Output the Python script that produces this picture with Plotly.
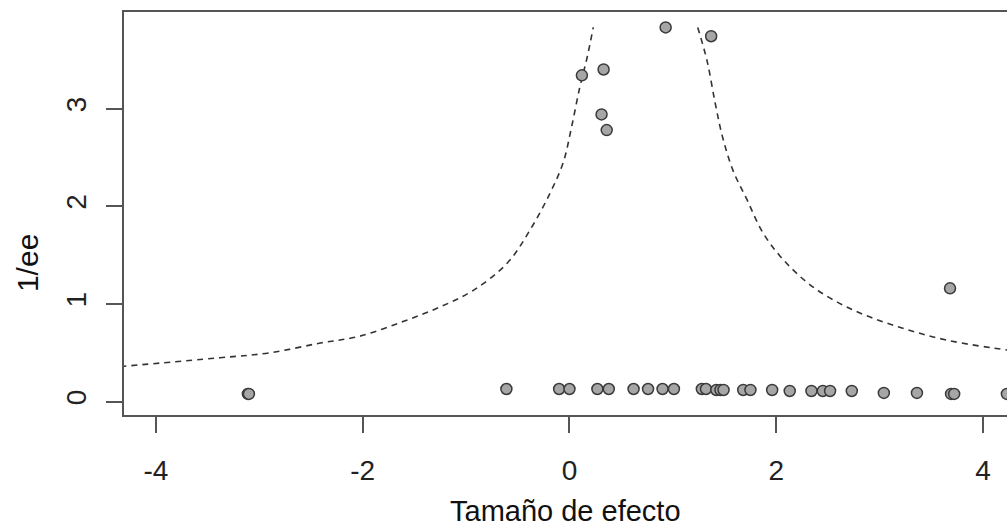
import plotly.graph_objects as go

# Study effect sizes and precision (1/SE)
effect = [0.93, 1.37, 0.12, 0.33, 0.31, 0.36, 3.68,
          -0.61, -0.10, 0.00, 0.27, 0.38, 0.62, 0.76, 0.90, 1.01,
          1.28, 1.32, 1.42, 1.46, 1.49, 1.68, 1.75, 1.96, 2.13,
          2.34, 2.45, 2.52, 2.73, 3.04, 3.36, 3.69, 3.72, 4.23,
          -3.11, -3.10]
precision = [3.83, 3.74, 3.34, 3.40, 2.94, 2.78, 1.16,
             0.13, 0.13, 0.13, 0.13, 0.13, 0.13, 0.13, 0.13, 0.13,
             0.13, 0.13, 0.12, 0.12, 0.12, 0.12, 0.12, 0.12, 0.11,
             0.11, 0.11, 0.11, 0.11, 0.09, 0.09, 0.08, 0.08, 0.08,
             0.08, 0.08]

# Funnel boundary
left_x = [-4.45, -3.38, -2.90, -2.41, -2.03, -1.61, -1.25, -0.93, -0.60,
          -0.38, -0.19, -0.06, 0.02, 0.10, 0.17, 0.23]
left_y = [0.35, 0.45, 0.50, 0.60, 0.67, 0.82, 0.97, 1.14, 1.42,
          1.76, 2.13, 2.45, 2.81, 3.22, 3.52, 3.83]
right_x = [1.24, 1.33, 1.41, 1.48, 1.58, 1.72, 1.87, 2.07, 2.36,
           2.74, 3.17, 3.65, 4.23, 4.40]
right_y = [3.83, 3.49, 3.05, 2.71, 2.37, 2.06, 1.73, 1.45, 1.17,
           0.94, 0.77, 0.63, 0.53, 0.51]

x_ticks = [-4, -2, 0, 2, 4]
y_ticks = [0, 1, 2, 3]
x_title = "Tamaño de efecto"
y_title = "1/ee"

FONT = "Liberation Sans, Arial, sans-serif"
line_style = dict(color="#333333", width=1.6, dash="6px,5px")

fig = go.Figure()
fig.add_trace(go.Scatter(x=left_x, y=left_y, mode="lines", line=line_style,
                         line_shape="spline", hoverinfo="skip"))
fig.add_trace(go.Scatter(x=right_x, y=right_y, mode="lines", line=line_style,
                         line_shape="spline", hoverinfo="skip"))
fig.add_trace(go.Scatter(x=effect, y=precision, mode="markers",
                         marker=dict(size=11, color="#a6a6a6",
                                     line=dict(color="#3a3a3a", width=1.5))))

fig.update_layout(
    width=1007, height=527,
    margin=dict(l=124, r=0, t=12, b=112),
    paper_bgcolor="white", plot_bgcolor="white",
    showlegend=False,
    font=dict(family=FONT, size=28, color="#222222"),
    xaxis=dict(range=[-4.308, 4.231], tickvals=x_ticks,
               ticktext=[str(v) for v in x_ticks],
               showgrid=False, zeroline=False, automargin=False,
               showline=True, linecolor="#555555", linewidth=1.5, mirror=True,
               ticks="outside", ticklen=16, tickwidth=1.5, tickcolor="#555555",
               ticklabelstandoff=14),
    yaxis=dict(range=[-0.136, 3.988], tickvals=y_ticks,
               showgrid=False, zeroline=False, automargin=False,
               showline=True, linecolor="#555555", linewidth=1.5,
               ticks="outside", ticklen=16, tickwidth=1.5, tickcolor="#555555",
               tickangle=-90, ticklabelstandoff=9),
    annotations=[
        dict(text=x_title, xref="paper", yref="paper", x=0.5, y=0,
             xanchor="center", yanchor="middle", yshift=-96, showarrow=False,
             font=dict(size=29, color="#111111")),
        dict(text=y_title, xref="paper", yref="paper", x=0, y=0.377,
             xanchor="center", yanchor="middle", xshift=-97, textangle=-90,
             showarrow=False, font=dict(size=30, color="#111111")),
    ],
)

fig.write_html("out.html", config={"displayModeBar": False},
               post_script="document.body.style.margin='0';document.body.style.padding='0';")
